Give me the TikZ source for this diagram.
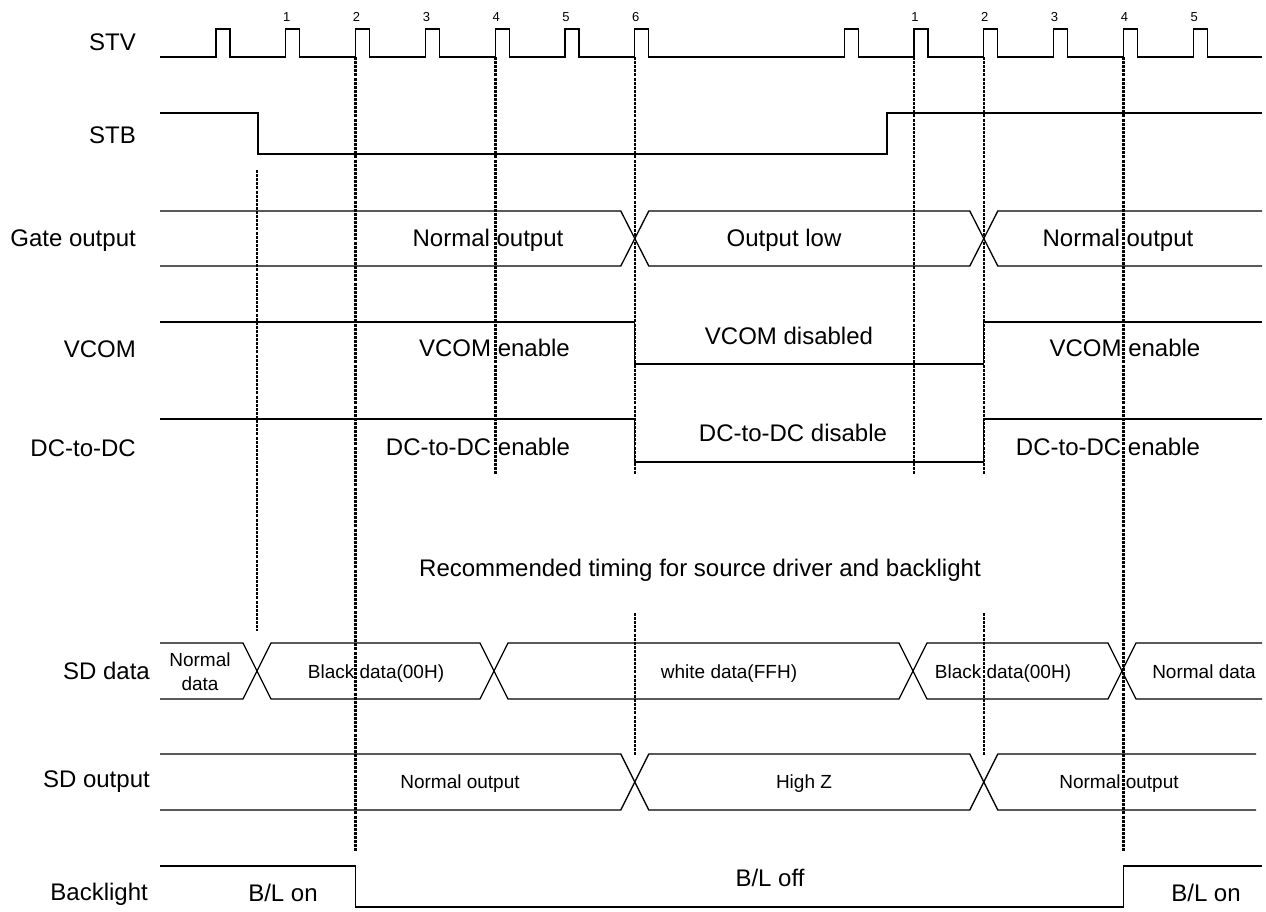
\documentclass[tikz,border=0pt]{standalone}
\usepackage{fontspec}
\setmainfont{Liberation Sans}
\begin{document}
\begin{tikzpicture}[x=1pt,y=-1pt,
  sig/.style={line width=1.3pt, line join=miter},
  vdash/.style={line width=2.6pt, dash pattern=on 3pt off 1.1pt},
  lbl/.style={anchor=base east, font=\fontsize{24}{28}\selectfont, inner sep=0pt},
  big/.style={anchor=base, font=\fontsize{24}{28}\selectfont, inner sep=0pt},
  small/.style={anchor=base, font=\fontsize{19}{22}\selectfont, inner sep=0pt},
  num/.style={anchor=base, font=\fontsize{13}{15}\selectfont, inner sep=0pt}]
\useasboundingbox (0,0) rectangle (1266,911);

% signal names
\node[lbl] (lSTV) at (136,50.6) {STV};
\node[lbl] (lSTB) at (136,143) {STB};
\node[lbl] (lGate) at (136,246.6) {Gate output};
\node[lbl] (lVCOM) at (136,357) {VCOM};
\node[lbl] (lDC) at (136,456) {DC-to-DC};
\node[lbl] (lSDd) at (150,679.6) {SD data};
\node[lbl] (lSDo) at (150,787.6) {SD output};
\node[lbl] (lBL) at (148,900.6) {Backlight};

% STV
\draw[sig] (160,57) \foreach \k in {0,1,2,3,4,5,6,9,10,11,12,13,14} { -- ({216+69.8*\k},57) -- ++(0,-28) -- ++(14,0) -- ++(0,28) } -- (1262,57);
\foreach \k/\n in {1/1,2/2,3/3,4/4,5/5,6/6,10/1,11/2,12/3,13/4,14/5}
  \node[num] (n\k) at ({217+69.8*\k},21) {\n};

% STB
\draw[sig] (160,113) -- (258,113) -- (258,154) -- (887,154) -- (887,113) -- (1262,113);

% Gate output
\draw[sig] (160,211) -- (620.8,211) -- (648.8,266) -- (969.8,266) -- (997.8,211) -- (1262,211);
\draw[sig] (160,266) -- (620.8,266) -- (648.8,211) -- (969.8,211) -- (997.8,266) -- (1262,266);
\node[big] (g1) at (488,246) {Normal output};
\node[big] (g2) at (784,246) {Output low};
\node[big] (g3) at (1118,246) {Normal output};

% VCOM
\draw[sig] (160,322) -- (634.8,322) -- (634.8,364) -- (983.8,364) -- (983.8,322) -- (1262,322);
\node[big] (v1) at (494.5,356.6) {VCOM enable};
\node[big] (v2) at (789,344) {VCOM disabled};
\node[big] (v3) at (1125,356.6) {VCOM enable};

% DC-to-DC
\draw[sig] (160,419) -- (634.8,419) -- (634.8,462) -- (983.8,462) -- (983.8,419) -- (1262,419);
\node[big] (d1) at (478,455) {DC-to-DC enable};
\node[big] (d2) at (793,441.7) {DC-to-DC disable};
\node[big] (d3) at (1108,455) {DC-to-DC enable};

\node[big] (rec) at (700,576.6) {Recommended timing for source driver and backlight};

% SD data
\draw[sig] (160,643) -- (243,643) -- (271,699) -- (480,699) -- (508,643) -- (899,643) -- (927,699) -- (1108,699) -- (1136,643) -- (1262,643);
\draw[sig] (160,699) -- (243,699) -- (271,643) -- (480,643) -- (508,699) -- (899,699) -- (927,643) -- (1108,643) -- (1136,699) -- (1262,699);
\node[small] (s0a) at (200,666.7) {Normal};
\node[small] (s0b) at (200,690.7) {data};
\node[small] (s1) at (376,678) {Black data(00H)};
\node[small] (s2) at (729,678) {white data(FFH)};
\node[small] (s3) at (1003,678) {Black data(00H)};
\node[small] (s4) at (1204,678) {Normal data};

% SD output
\draw[sig] (160,754) -- (620.8,754) -- (648.8,810) -- (969.8,810) -- (997.8,754) -- (1256,754);
\draw[sig] (160,810) -- (620.8,810) -- (648.8,754) -- (969.8,754) -- (997.8,810) -- (1256,810);
\node[small] (o1) at (460,788.3) {Normal output};
\node[small] (o2) at (804,788.3) {High Z};
\node[small] (o3) at (1119,788.3) {Normal output};

% Backlight
\draw[sig] (160,866) -- (355.6,866) -- (355.6,907) -- (1123.4,907) -- (1123.4,866) -- (1262,866);
\node[big] (b1) at (283,901.7) {B/L on};
\node[big] (b2) at (770,886.7) {B/L off};
\node[big] (b3) at (1206,901.7) {B/L on};

% dashed markers
\coordinate (a1) at (257,170);   \coordinate (a2) at (257,631);
\coordinate (b1t) at (355.6,57); \coordinate (b1b) at (355.6,852);
\coordinate (c1) at (495.2,57);  \coordinate (c2) at (495.2,474);
\coordinate (e1) at (634.8,57);  \coordinate (e2) at (634.8,474);
\coordinate (e3) at (634.8,613); \coordinate (e4) at (634.8,755);
\coordinate (f1) at (914,57);    \coordinate (f2) at (914,474);
\coordinate (h1) at (983.8,57);  \coordinate (h2) at (983.8,474);
\coordinate (h3) at (983.8,613); \coordinate (h4) at (983.8,755);
\coordinate (k1) at (1123.4,57); \coordinate (k2) at (1123.4,852);
\draw[vdash] (a1) -- (a2);
\draw[vdash] (b1t) -- (b1b);
\draw[vdash] (c1) -- (c2);
\draw[vdash] (e1) -- (e2);
\draw[vdash] (e3) -- (e4);
\draw[vdash] (f1) -- (f2);
\draw[vdash] (h1) -- (h2);
\draw[vdash] (h3) -- (h4);
\draw[vdash] (k1) -- (k2);
\end{tikzpicture}
\end{document}
